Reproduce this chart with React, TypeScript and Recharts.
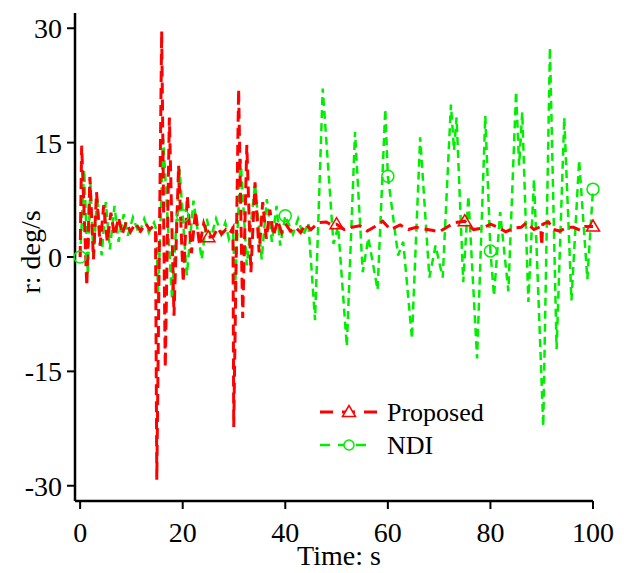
import { LineChart, Line, XAxis, YAxis, Legend, Label } from 'recharts';

// time (s) and yaw rate r (deg/s)
const proposedTime = [
  0, 0.3, 1.3, 1.9, 2.6, 3.2, 3.9, 4.6, 5.3, 6.0, 6.7, 7.5, 8.2, 9.0, 9.8, 10.8, 11.8, 12.8, 13.5, 14.2, 14.7,
  14.95, 15.9, 16.6, 17.4, 18.3, 19.2, 20.1, 20.9, 21.7, 22.5, 23.3, 24.1, 25, 26, 26.8, 27.6, 28.4, 29.2, 29.8,
  29.95, 30.9, 31.7, 32.5, 33.3, 34.1, 34.9, 35.6, 36.3, 37.0, 37.7, 38.5, 39.3, 40.2, 41, 42, 43, 44, 45, 46.5,
  48, 49, 50, 51.5, 53, 54.5, 56, 57.5, 59, 60.5, 62.4, 64, 65.5, 67, 68.6, 70, 71.5, 73, 75, 76.7, 78.5, 80,
  81.5, 83, 84.5, 86, 87, 88.5, 89.8, 90, 90.2, 91.3, 92.3, 93.5, 95, 96.2, 97.5, 98.5, 100,
];
const proposedRate = [
  0, 14.6, -3.8, 10.5, -0.3, 8.5, 1.5, 6.8, 2.0, 5.8, 2.8, 5.2, 3.0, 4.6, 3.3, 4.4, 3.4, 4.4, 3.6, 4.0, 3.7,
  -29.2, 29.6, -14.5, 18.3, -7.7, 12.0, -3.3, 8.0, 0.5, 6.0, 1.5, 4.4, 2.6, 2.7, 3.8, 3.0, 3.6, 3.1, 3.8,
  -22.3, 22.0, -8.0, 14.7, -2.0, 9.8, 0.6, 7.2, 2.4, 6.2, 2.8, 4.8, 3.2, 4.2, 3.4, 3.9, 3.2, 4.3, 3.6, 4.5,
  4.6, 4.2, 4.3, 3.6, 3.9, 4.1, 3.4, 4.0, 4.7, 3.6, 4.2, 3.6, 3.9, 3.7, 3.5, 3.3, 3.9, 4.5, 4.7, 3.6, 3.8, 4.3,
  3.9, 3.3, 3.8, 3.9, 4.5, 3.6, 4.0, 1.5, 4.3, 4.6, 3.6, 3.4, 3.9, 3.9, 3.5, 4.0, 4.0,
];

const ndiTime = [
  0, 0.8, 1.5, 2.0, 2.6, 3.3, 4.2, 5.0, 5.8, 6.7, 7.5, 8.5, 9.3, 10.3, 11.5, 12.5, 13.4, 14.4, 14.9,
  15.2, 16.2, 17.9, 19.4, 20, 20.8, 22.1, 23.7, 24.7, 25.5, 26.5, 27.5, 28.3, 29.0, 29.8,
  30.2, 31.3, 32.5, 34.1, 35.4, 36.4, 37.4, 38.3, 39.0, 40, 41.5, 42.5, 43.5, 44.5,
  45.8, 47.3, 49.4, 50.3, 52.0, 53.6, 55.1, 56.2, 58.0, 59.5, 60, 62.0, 63.0, 64.7, 66.3, 68.1, 69.3, 70.7,
  72.3, 72.9, 73.4, 74.7, 75.7, 77.4, 79.0, 80, 80.7, 81.9, 83.5, 85.0, 85.6, 86.2, 87.4, 88.5, 90.3, 91.6,
  92.9, 94.4, 95.8, 97.3, 98.9, 100,
];
const ndiRate = [
  0, 11.4, -2.4, 9.8, -0.3, 8.0, 0.2, 7.2, 1.0, 6.7, 2.0, 5.6, 2.8, 5.2, 3.0, 5.0, 3.2, 4.5, 3.5,
  -5.5, 15.5, -5.3, 11.5, 5.4, -2.4, 7.4, -0.3, 5.0, 2.5, 5.0, 3.0, 4.5, 2.4, 4.0,
  -4.2, 12.8, -1.1, 9.6, -0.3, 7.6, 2.0, 6.7, 1.5, 5.4, 3.0, 5.0, 2.8, 4.5,
  -8.3, 22.1, 1.7, 4.0, -11.7, 16.4, -2.0, 2.5, -4.3, 19.4, 10.6, 0.2, 2.0, -10.7, 15.7, -2.7, 1.5, -2.7,
  20.0, 14.0, 18.3, -3.3, 8.0, -13.3, 18.5, 0.8, -5.1, 5.9, -4.5, 21.7, 12.0, 19.0, -5.9, 10.2, -22.2, 27.5,
  -12.1, 18.3, -5.7, 12.7, -2.9, 8.9,
];

const proposedMarks = [25, 50, 75, 100];
const ndiMarks = [0, 20, 40, 60, 80, 100];
const xTicks = [0, 20, 40, 60, 80, 100];
const yTicks = [-30, -15, 0, 15, 30];

const proposedData = proposedTime.map((t, i) => ({ t, r: proposedRate[i] }));
const ndiData = ndiTime.map((t, i) => ({ t, r: ndiRate[i] }));

const RED = '#ff0000';
const GREEN = '#00ee00';
const FONT = 'Liberation Serif, Times New Roman, serif';

const triangle = (cx: number, cy: number) =>
  `${cx},${cy - 6.5} ${cx - 6.5},${cy + 4.5} ${cx + 6.5},${cy + 4.5}`;

const TriangleDot = (props: any) => {
  const { cx, cy, payload } = props;
  if (!proposedMarks.includes(payload.t)) return <g key={`p${payload.t}`} />;
  return (
    <polygon key={`p${payload.t}`} points={triangle(cx, cy)} fill="none" stroke={RED} strokeWidth={1.5} />
  );
};

const CircleDot = (props: any) => {
  const { cx, cy, payload } = props;
  if (!ndiMarks.includes(payload.t)) return <g key={`n${payload.t}`} />;
  return <circle key={`n${payload.t}`} cx={cx} cy={cy} r={6} fill="none" stroke={GREEN} strokeWidth={1.5} />;
};

const renderLegend = () => (
  <svg width={200} height={70} style={{ overflow: 'visible' }}>
    <line x1={5} x2={67} y1={17} y2={17} stroke={RED} strokeWidth={3} strokeDasharray="13 9" />
    <polygon points={triangle(34, 17)} fill="white" stroke={RED} strokeWidth={1.5} />
    <text x={72} y={17} dominantBaseline="central" fontSize={26} fontFamily={FONT} fill="#000">
      Proposed
    </text>
    <line x1={5} x2={57} y1={50} y2={50} stroke={GREEN} strokeWidth={2.5} strokeDasharray="10 8" />
    <circle cx={34} cy={50} r={5} fill="white" stroke={GREEN} strokeWidth={1.5} />
    <text x={72} y={50} dominantBaseline="central" fontSize={26} fontFamily={FONT} fill="#000">
      NDI
    </text>
  </svg>
);

const App = () => {
  const tickStyle = { fontSize: 28, fill: '#000', fontFamily: FONT };
  return (
    <div style={{ position: 'absolute', left: 0, top: 0, width: 624, height: 573, background: '#fff' }}>
      <LineChart width={624} height={573} margin={{ top: 13, right: 31, bottom: 0, left: 0 }}>
        {/* Time axis */}
        <XAxis
          type="number"
          dataKey="t"
          domain={[-1, 100]}
          ticks={xTicks}
          height={72}
          tick={tickStyle}
          tickSize={8}
          tickMargin={13}
          axisLine={{ stroke: '#000', strokeWidth: 2.5 }}
          tickLine={{ stroke: '#000', strokeWidth: 2 }}
        >
          <Label
            content={() => (
              <text x={339} y={565} textAnchor="middle" fontSize={28} fontFamily={FONT} fill="#000">
                Time: s
              </text>
            )}
          />
        </XAxis>

        {/* Yaw rate axis */}
        <YAxis
          type="number"
          domain={[-32, 32]}
          ticks={yTicks}
          width={75}
          tick={tickStyle}
          tickSize={8}
          tickMargin={5}
          axisLine={{ stroke: '#000', strokeWidth: 2.5 }}
          tickLine={{ stroke: '#000', strokeWidth: 2 }}
        >
          <Label
            content={() => (
              <text
                x={30}
                y={252}
                transform="rotate(-90 30 252)"
                textAnchor="middle"
                dominantBaseline="central"
                fontSize={28}
                fontFamily={FONT}
                fill="#000"
              >
                r: deg/s
              </text>
            )}
          />
        </YAxis>

        <Legend
          layout="vertical"
          align="center"
          verticalAlign="middle"
          content={renderLegend}
          wrapperStyle={{ left: 315, top: 395, width: 200, height: 70 }}
        />

        <Line
          data={ndiData}
          dataKey="r"
          type="linear"
          stroke={GREEN}
          strokeWidth={2.5}
          strokeDasharray="8 5"
          dot={CircleDot}
          activeDot={false}
          isAnimationActive={false}
        />
        <Line
          data={proposedData}
          dataKey="r"
          type="linear"
          stroke={RED}
          strokeWidth={3}
          strokeDasharray="11 6"
          dot={TriangleDot}
          activeDot={false}
          isAnimationActive={false}
        />
      </LineChart>
    </div>
  );
};

export default App;
